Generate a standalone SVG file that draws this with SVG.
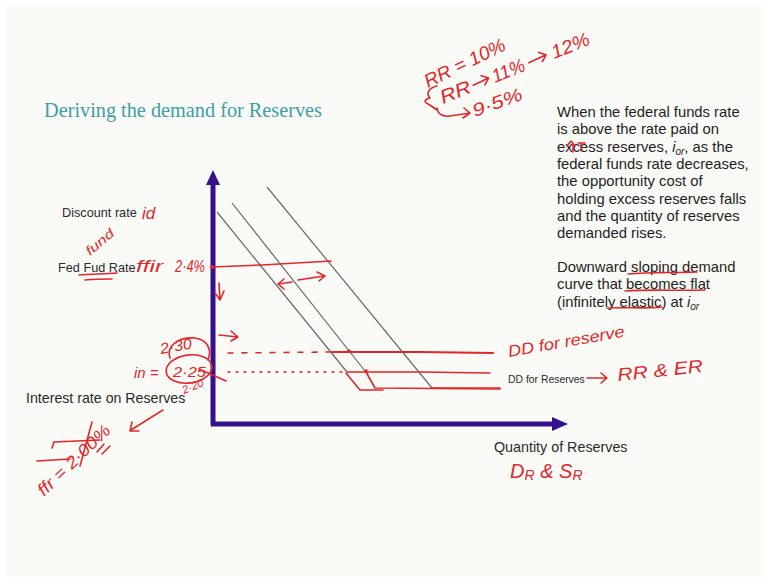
<svg xmlns="http://www.w3.org/2000/svg" width="764" height="577" viewBox="0 0 764 577">
<defs>
<style>
.bg{fill:#fafaf6}
.title{font-family:"Liberation Serif","DejaVu Serif",serif;font-size:21px;fill:#3a9fa6}
.lbl{font-family:"Liberation Sans",Arial,sans-serif;fill:#2a2a2a}
.body{font-family:"Liberation Sans",Arial,sans-serif;font-size:14.8px;fill:#1e1e1e}
.axis{stroke:#35128c;stroke-width:5;fill:none}
.axhead{fill:#35128c}
.dd{stroke:#6a6a6a;stroke-width:1.2;fill:none}
.ink{stroke:#e3262b;stroke-width:1.6;fill:none;stroke-linecap:round;stroke-linejoin:round}
.inkB{stroke:#e3262b;stroke-width:2.2;fill:none;stroke-linecap:round;stroke-linejoin:round}
.hw{font-family:"Liberation Sans","DejaVu Sans",sans-serif;font-style:italic;fill:#e3262b}
</style>
</defs>
<rect width="764" height="577" fill="#ffffff"/>
<rect class="bg" x="6" y="6" width="758" height="571"/>

<g id="title"><text class="title" x="44" y="117" textLength="278" lengthAdjust="spacingAndGlyphs">Deriving the demand for Reserves</text></g>

<g id="explanation">
<text class="body" x="557" y="117">When the federal funds rate</text>
<text class="body" x="557" y="134.3">is above the rate paid on</text>
<text class="body" x="557" y="151.6">excess reserves, <tspan font-style="italic">i</tspan><tspan font-style="italic" font-size="10" dy="3">or</tspan><tspan dy="-3">, as the</tspan></text>
<text class="body" x="557" y="169">federal funds rate decreases,</text>
<text class="body" x="557" y="186.3">the opportunity cost of</text>
<text class="body" x="557" y="203.6">holding excess reserves falls</text>
<text class="body" x="557" y="221">and the quantity of reserves</text>
<text class="body" x="557" y="238.3">demanded rises.</text>
<text class="body" x="557" y="272">Downward sloping demand</text>
<text class="body" x="557" y="289.3">curve that becomes flat</text>
<text class="body" x="557" y="306.6">(infinitely elastic) at <tspan font-style="italic">i</tspan><tspan font-style="italic" font-size="10" dy="3">or</tspan></text>
</g>

<g id="axes">
<line class="axis" x1="213" y1="425" x2="213" y2="182"/>
<polygon class="axhead" points="213,170 206,185 220,185"/>
<line class="axis" x1="211" y1="424" x2="554" y2="424"/>
<polygon class="axhead" points="568,424 552,417 552,431"/>
</g>

<g id="labels">
<text class="lbl" x="62" y="217" font-size="12.7">Discount rate</text>
<text class="lbl" x="58" y="272" font-size="12.7">Fed Fud Rate</text>
<text class="lbl" x="26" y="403" font-size="14.2">Interest rate on Reserves</text>
<text class="lbl" x="494" y="452" font-size="14.3">Quantity of Reserves</text>
<text class="lbl" x="508" y="383" font-size="10.4">DD for Reserves</text>
</g>

<g id="connectors">
<line class="dd" x1="217" y1="212" x2="347" y2="372"/>
<line class="dd" x1="232" y1="203" x2="365" y2="371"/>
<line class="dd" x1="267" y1="187" x2="432" y2="388"/>
</g>

<g id="ink-curves">
<path class="ink" d="M212,267 L262,265 L331,261"/>
<path class="ink" d="M228,353 L330,352" stroke-dasharray="5,9"/>
<path class="inkB" d="M332,352 L420,352 L493,353"/>
<circle cx="349" cy="351" r="1.8" fill="#e3262b"/>
<path class="ink" d="M228,372 L347,372" stroke-dasharray="2,6"/>
<path class="ink" d="M347,372 L420,372 L490,373"/>
<path class="ink" d="M346,373 L360,390 L383,390"/>
<path class="ink" d="M366,372 L375,388 L500,389"/>
<path class="ink" d="M431,388 L500,388"/>
<circle cx="366" cy="371" r="1.8" fill="#e3262b"/>
<circle cx="212" cy="267" r="2" fill="#e3262b"/>
<path class="ink" d="M219,283 L220,300 M215,293 L220,300 L224,291"/>
<path class="ink" d="M219,335 L238,337 M231,331 L238,337 L231,341"/>
<path class="ink" d="M279,284 L292,282 M284,279 L278,284 L284,289"/>
<path class="ink" d="M298,280 L324,276 M317,272 L325,276 L319,281"/>
</g>

<g id="notes-top">
<text class="hw" font-size="19" transform="translate(428,88) rotate(-26)" textLength="88" lengthAdjust="spacingAndGlyphs">RR = 10%</text>
<g transform="translate(443,104) rotate(-22)">
<text class="hw" font-size="19" x="0" y="0" textLength="32" lengthAdjust="spacingAndGlyphs">RR</text>
<path class="ink" d="M35,-6 L52,-7 M46,-12 L52,-7 L46,-2"/>
<text class="hw" font-size="19" x="56" y="0" textLength="34" lengthAdjust="spacingAndGlyphs">11%</text>
<path class="ink" d="M95,-6 L114,-7 M108,-12 L114,-7 L108,-2"/>
<text class="hw" font-size="19" x="120" y="0" textLength="40" lengthAdjust="spacingAndGlyphs">12%</text>
</g>
<path class="ink" d="M437,86 C428,88 426,94 430,98 C425,99 423,102 428,104 C432,106 434,108 437,110"/>
<path class="ink" d="M437,108 C438,115 444,117 450,116 L470,113 M464,108 L470,113 L463,118"/>
<text class="hw" font-size="18" transform="translate(475,117) rotate(-20)" textLength="52" lengthAdjust="spacingAndGlyphs">9·5%</text>
<path class="ink" d="M567,146 L571,141 L575,146 M573,144 L573,152 M578,143 L585,143 M581,143 L581,151"/>
<path class="ink" d="M628,274 C650,272 675,273 697,272"/>
<path class="ink" d="M625,291 C650,289 680,291 705,290"/>
<path class="ink" d="M607,308 C625,307 645,309 662,307"/>
</g>

<g id="notes-left">
<text class="hw" font-size="17" x="142" y="219">id</text>
<text class="hw" font-size="13" transform="translate(90,256) rotate(-40)" textLength="33" lengthAdjust="spacingAndGlyphs">fund</text>
<path class="ink" d="M79,275 C92,274 105,274 117,273"/>
<path class="ink" d="M85,280 C95,279 104,279 112,279"/>
<text class="hw" font-size="16" x="136" y="272" textLength="27" lengthAdjust="spacingAndGlyphs">ffir</text>
<text class="hw" font-size="16" x="175" y="272" textLength="30" lengthAdjust="spacingAndGlyphs">2·4%</text>
<text class="hw" font-size="15" x="134" y="378">in =</text>
<text class="hw" font-size="15" transform="translate(161,354) rotate(-10)" textLength="32" lengthAdjust="spacingAndGlyphs">2·30</text>
<text class="hw" font-size="15" x="173" y="377" textLength="33" lengthAdjust="spacingAndGlyphs">2·25</text>
<text class="hw" font-size="11" transform="translate(184,394) rotate(-22)">2·20</text>
<ellipse class="ink" cx="189" cy="369" rx="23" ry="14" transform="rotate(-8 189 369)"/>
<path class="ink" d="M170,358 C166,346 178,337 195,338 C208,340 212,350 208,360"/>
<path class="ink" d="M199,369 L226,381"/>
<path class="ink" d="M163,410 L131,430 M132,422 L130,431 L139,431"/>
<text class="hw" font-size="17" transform="translate(44,497) rotate(-44)" textLength="94" lengthAdjust="spacingAndGlyphs">ffr = 2·00%</text>
<path class="ink" d="M37,461 L70,459"/>
<path class="ink" d="M52,448 L54,442 L100,440"/>
<path class="ink" d="M92,422 L80,466"/>
<path class="ink" d="M97,452 L104,444 M102,454 L110,446"/>
</g>

<g id="notes-right">
<text class="hw" font-size="16" transform="translate(509,357) rotate(-10)" textLength="118" lengthAdjust="spacingAndGlyphs">DD for reserve</text>
<path class="ink" d="M587,378 L607,378 M601,373 L607,378 L601,383"/>
<text class="hw" font-size="18" transform="translate(618,381) rotate(-6)" textLength="86" lengthAdjust="spacingAndGlyphs">RR &amp; ER</text>
<text class="hw" font-size="20" x="510" y="478">D<tspan font-size="14" dy="2">R</tspan><tspan dy="-2"> &amp; S</tspan><tspan font-size="14" dy="2">R</tspan></text>
</g>
</svg>
